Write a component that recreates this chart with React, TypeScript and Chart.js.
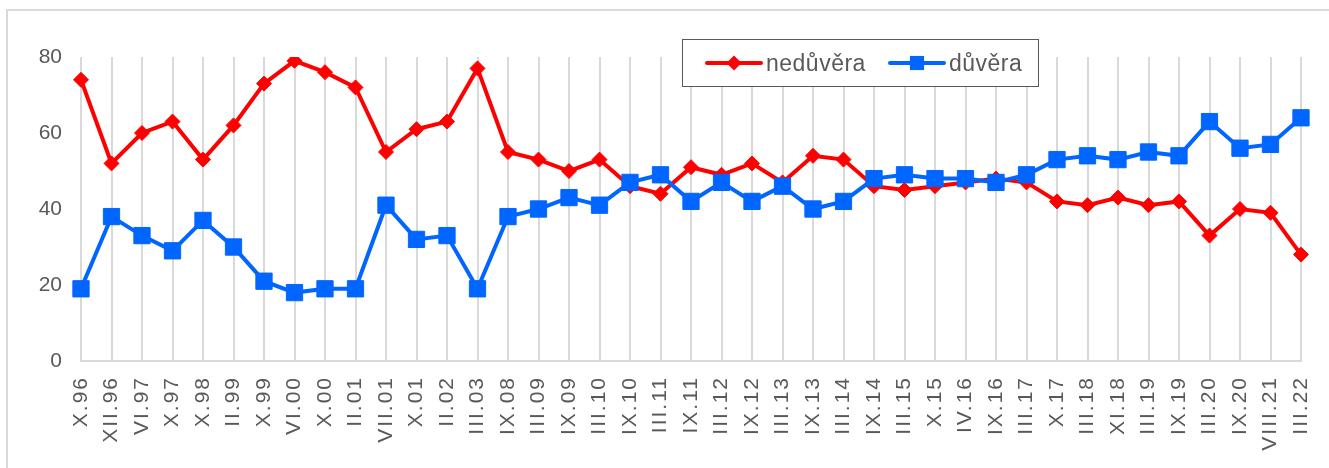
import { useEffect, useRef } from "react";
import { Chart, registerables } from "chart.js";

Chart.register(...registerables);

const categories = [
  "X.96", "XII.96", "VI.97", "X.97", "X.98", "II.99", "X.99", "VI.00", "X.00", "II.01",
  "VII.01", "X.01", "II.02", "III.03", "IX.08", "III.09", "IX.09", "III.10", "IX.10", "III.11",
  "IX.11", "III.12", "IX.12", "III.13", "IX.13", "III.14", "IX.14", "III.15", "X.15", "IV.16",
  "IX.16", "III.17", "X.17", "III.18", "XI.18", "III.19", "IX.19", "III.20", "IX.20", "VIII.21",
  "III.22",
];

const neduvera = [
  74, 52, 60, 63, 53, 62, 73, 79, 76, 72,
  55, 61, 63, 77, 55, 53, 50, 53, 46, 44,
  51, 49, 52, 47, 54, 53, 46, 45, 46, 47,
  48, 47, 42, 41, 43, 41, 42, 33, 40, 39,
  28,
];

const duvera = [
  19, 38, 33, 29, 37, 30, 21, 18, 19, 19,
  41, 32, 33, 19, 38, 40, 43, 41, 47, 49,
  42, 47, 42, 46, 40, 42, 48, 49, 48, 48,
  47, 49, 53, 54, 53, 55, 54, 63, 56, 57,
  64,
];

const yTickValues = [0, 20, 40, 60, 80];

const seriesLabels = ["nedůvěra", "důvěra"];
const seriesColors = ["#ff0000", "#0066ff"];

const FONT = "'Liberation Sans', Arial, sans-serif";
const TEXT_COLOR = "#595959";
const GRID_COLOR = "#d9d9d9";

const framePlugin = {
  id: "frameAndSpacing",
  beforeDraw(chart: any) {
    const ctx = chart.ctx;
    ctx.save();
    ctx.strokeStyle = GRID_COLOR;
    ctx.lineWidth = 2;
    ctx.beginPath();
    ctx.moveTo(7, chart.height + 5);
    ctx.lineTo(7, 10);
    ctx.lineTo(chart.width + 5, 10);
    ctx.stroke();
    ctx.restore();
    const xs = chart.scales.x;
    if (xs && !xs.__spaced) {
      const orig = xs.drawLabels.bind(xs);
      xs.drawLabels = (area: any) => {
        const c = chart.ctx as any;
        const prev = c.letterSpacing;
        c.letterSpacing = "2px";
        orig(area);
        c.letterSpacing = prev || "0px";
      };
      xs.__spaced = true;
    }
  },
};

function drawMarker(ctx: CanvasRenderingContext2D, style: string, x: number, y: number, r: number) {
  ctx.beginPath();
  if (style === "rectRot") {
    ctx.moveTo(x - r, y);
    ctx.lineTo(x, y - r);
    ctx.lineTo(x + r, y);
    ctx.lineTo(x, y + r);
    ctx.closePath();
  } else {
    const s = Math.SQRT1_2 * r;
    ctx.rect(x - s, y - s, 2 * s, 2 * s);
  }
  ctx.fill();
}

const legendPlugin = {
  id: "boxLegend",
  afterDraw(chart: any) {
    const ctx = chart.ctx as CanvasRenderingContext2D;
    ctx.save();
    ctx.fillStyle = "#ffffff";
    ctx.fillRect(682, 39, 357, 48);
    ctx.strokeStyle = "#595959";
    ctx.lineWidth = 1;
    ctx.strokeRect(682.5, 39.5, 356, 47);
    const items = [
      { ds: chart.data.datasets[1], x0: 707, r: 7.5 },
      { ds: chart.data.datasets[0], x0: 890, r: 10 },
    ];
    const y = 63;
    items.forEach((it) => {
      const ds = it.ds;
      ctx.strokeStyle = ds.borderColor;
      ctx.lineWidth = 4;
      ctx.lineCap = "round";
      ctx.beginPath();
      ctx.moveTo(it.x0, y);
      ctx.lineTo(it.x0 + 54, y);
      ctx.stroke();
      ctx.fillStyle = ds.pointBackgroundColor;
      drawMarker(ctx, ds.pointStyle, it.x0 + 27, y, it.r);
      ctx.fillStyle = TEXT_COLOR;
      ctx.font = `23px ${FONT}`;
      (ctx as any).letterSpacing = "0.5px";
      ctx.textBaseline = "alphabetic";
      ctx.textAlign = "left";
      ctx.fillText(ds.label, it.x0 + 59, 71);
      (ctx as any).letterSpacing = "0px";
    });
    ctx.restore();
  },
};

export default function App() {
  const ref = useRef<HTMLCanvasElement>(null);

  useEffect(() => {
    if (!ref.current) return;
    const chart = new Chart(ref.current, {
      type: "line",
      data: {
        labels: categories,
        datasets: [
          {
            label: seriesLabels[1],
            data: duvera,
            order: 0,
            borderColor: seriesColors[1],
            backgroundColor: seriesColors[1],
            pointBackgroundColor: seriesColors[1],
            pointBorderColor: seriesColors[1],
            borderWidth: 4,
            pointStyle: "rect",
            pointRadius: 11.5,
            pointBorderWidth: 1,
            tension: 0,
          },
          {
            label: seriesLabels[0],
            data: neduvera,
            order: 1,
            borderColor: seriesColors[0],
            backgroundColor: seriesColors[0],
            pointBackgroundColor: seriesColors[0],
            pointBorderColor: seriesColors[0],
            borderWidth: 4,
            pointStyle: "rectRot",
            pointRadius: 7.5,
            pointBorderWidth: 1,
            tension: 0,
          },
        ],
      },
      options: {
        responsive: false,
        animation: false,
        devicePixelRatio: 1,
        layout: { padding: { top: 57, right: 28, bottom: 0, left: 0 } },
        plugins: {
          legend: { display: false },
          tooltip: { enabled: false },
        },
        scales: {
          x: {
            type: "category",
            offset: false,
            grid: {
              display: true,
              color: GRID_COLOR,
              lineWidth: 2,
              drawTicks: false,
            },
            border: { display: true, color: GRID_COLOR, width: 2 },
            ticks: {
              autoSkip: false,
              minRotation: 90,
              maxRotation: 90,
              padding: 15,
              color: TEXT_COLOR,
              font: { family: FONT, size: 21 },
            },
            afterFit: (scale: any) => {
              scale.height = 107;
              scale.paddingLeft = 0;
              scale.paddingRight = 0;
            },
          },
          y: {
            min: 0,
            max: 80,
            afterBuildTicks: (scale: any) => {
              scale.ticks = yTickValues.map((v) => ({ value: v }));
            },
            grid: { display: false, drawTicks: false },
            border: { display: false },
            ticks: {
              padding: 19,
              color: TEXT_COLOR,
              font: { family: FONT, size: 21 },
            },
            afterFit: (scale: any) => {
              scale.width = 81;
              scale.paddingTop = 0;
              scale.paddingBottom = 0;
            },
          },
        },
      },
      plugins: [framePlugin, legendPlugin],
    });
    return () => chart.destroy();
  }, []);

  return (
    <canvas
      ref={ref}
      width={1329}
      height={468}
      style={{ position: "absolute", left: 0, top: 0, width: 1329, height: 468 }}
    />
  );
}
